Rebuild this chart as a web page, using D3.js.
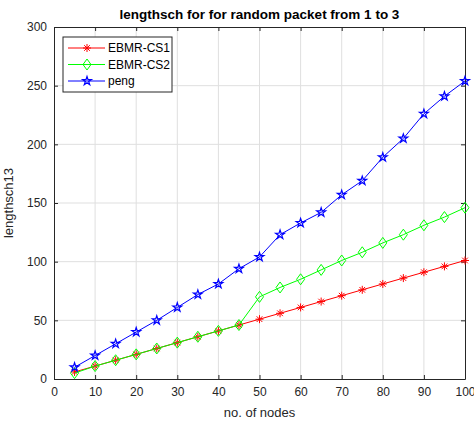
<!DOCTYPE html>
<html>
<head>
<meta charset="utf-8">
<script src="https://cdn.jsdelivr.net/npm/d3@7"></script>
<style>
  body { margin: 0; background: #fff; }
  text { font-family: "Liberation Sans", Arial, sans-serif; }
</style>
</head>
<body>
<svg id="svg" width="474" height="424"></svg>
<script>
var nodes = [5, 10, 15, 20, 25, 30, 35, 40, 45, 50, 55, 60, 65, 70, 75, 80, 85, 90, 95, 100];
var cs1 = [6, 11, 16, 21, 26, 31, 36, 41, 46, 51, 56, 61, 66, 71, 76, 81, 86, 91, 96, 101];
var cs2 = [5, 11, 16, 21, 26, 31, 36, 41, 46, 70, 78, 85, 93, 101, 108, 116, 123, 131, 138, 146];
var peng = [10, 20, 30, 40, 50, 61, 72, 81, 94, 104, 123, 133, 142, 157, 169, 189, 205, 226, 241, 254];
var xTicks = [0, 10, 20, 30, 40, 50, 60, 70, 80, 90, 100];
var yTicks = [0, 50, 100, 150, 200, 250, 300];

var series = [
  {name: "EBMR-CS1", values: cs1, color: "#ff0000", marker: "asterisk"},
  {name: "EBMR-CS2", values: cs2, color: "#00ff00", marker: "diamond"},
  {name: "peng", values: peng, color: "#0000ff", marker: "star"}
];

const svg = d3.select('#svg');
var pLeft = 54, pRight = 465, pTop = 27, pBottom = 379;
var axisColor = "#262626";

var x = d3.scaleLinear().domain([0, 100]).range([pLeft, pRight]);
var y = d3.scaleLinear().domain([0, 300]).range([pBottom, pTop]);

// grid
svg.append("g").selectAll("line").data(xTicks.slice(1, -1)).join("line")
  .attr("x1", d => x(d)).attr("x2", d => x(d))
  .attr("y1", pTop).attr("y2", pBottom)
  .style("stroke", "#dfdfdf").style("stroke-width", 1);
svg.append("g").selectAll("line").data(yTicks.slice(1, -1)).join("line")
  .attr("y1", d => y(d)).attr("y2", d => y(d))
  .attr("x1", pLeft).attr("x2", pRight)
  .style("stroke", "#dfdfdf").style("stroke-width", 1);

// axes
var xAxis = d3.axisBottom(x).tickValues(xTicks).tickSizeInner(-4).tickSizeOuter(0).tickPadding(8);
var yAxis = d3.axisLeft(y).tickValues(yTicks).tickSizeInner(-4).tickSizeOuter(0).tickPadding(7);
var xTop = d3.axisTop(x).tickValues(xTicks).tickSizeInner(-4).tickSizeOuter(0).tickFormat("");
var yRight = d3.axisRight(y).tickValues(yTicks).tickSizeInner(-4).tickSizeOuter(0).tickFormat("");

function styleAxis(g) {
  g.selectAll("path, line").style("stroke", axisColor);
  g.selectAll("text").style("fill", axisColor).style("font-size", "12px")
    .style("font-family", '"Liberation Sans", Arial, sans-serif');
}
svg.append("g").attr("transform", "translate(0," + pBottom + ")").call(xAxis).call(styleAxis);
svg.append("g").attr("transform", "translate(" + pLeft + ",0)").call(yAxis).call(styleAxis);
svg.append("g").attr("transform", "translate(0," + pTop + ")").call(xTop).call(styleAxis);
svg.append("g").attr("transform", "translate(" + pRight + ",0)").call(yRight).call(styleAxis);

// markers
function drawMarker(g, type, color) {
  if (type == "asterisk") {
    var r = 4, d = r * 0.707;
    g.append("path")
      .attr("d", "M" + (-r) + ",0H" + r + "M0," + (-r) + "V" + r +
        "M" + (-d) + "," + (-d) + "L" + d + "," + d + "M" + (-d) + "," + d + "L" + d + "," + (-d))
      .style("stroke", color).style("fill", "none").style("stroke-width", 1);
  } else if (type == "diamond") {
    g.append("path").attr("d", "M0,-5.5L4,0L0,5.5L-4,0Z")
      .style("stroke", color).style("fill", "none").style("stroke-width", 1);
  } else {
    g.append("path").attr("d", d3.symbol(d3.symbolStar, 24)())
      .style("stroke", color).style("fill", "none").style("stroke-width", 1.2);
  }
}

var line = d3.line().x(d => x(d[0])).y(d => y(d[1]));
series.forEach(function(s) {
  var pts = nodes.map((n, i) => [n, s.values[i]]);
  svg.append("path").datum(pts).attr("d", line)
    .style("fill", "none").style("stroke", s.color).style("stroke-width", 1);
  pts.forEach(function(p) {
    var g = svg.append("g").attr("transform", "translate(" + x(p[0]) + "," + y(p[1]) + ")");
    drawMarker(g, s.marker, s.color);
  });
});

// legend
var lg = svg.append("g");
lg.append("rect").attr("x", 63).attr("y", 37).attr("width", 109).attr("height", 55)
  .style("fill", "white").style("stroke", axisColor).style("stroke-width", 1);
series.forEach(function(s, i) {
  var ly = 48 + i * 16.5;
  lg.append("line").attr("x1", 68).attr("x2", 105).attr("y1", ly).attr("y2", ly)
    .style("stroke", s.color).style("stroke-width", 1);
  drawMarker(lg.append("g").attr("transform", "translate(87," + ly + ")"), s.marker, s.color);
  lg.append("text").attr("x", 108).attr("y", ly + 4).text(s.name)
    .style("font-size", "12px").style("fill", "#000");
});

// titles
svg.append("text").attr("x", (pLeft + pRight) / 2).attr("y", 19)
  .attr("text-anchor", "middle").text("lengthsch for for random packet from 1 to 3")
  .style("font-weight", "bold").style("font-size", "13.5px").style("fill", "#000");
svg.append("text").attr("x", (pLeft + pRight) / 2).attr("y", 417)
  .attr("text-anchor", "middle").text("no. of nodes")
  .style("font-size", "13px").style("fill", axisColor);
svg.append("text").attr("transform", "translate(13," + (pTop + pBottom) / 2 + ") rotate(-90)")
  .attr("text-anchor", "middle").text("lengthsch13")
  .style("font-size", "13px").style("fill", axisColor);
</script>
</body>
</html>
